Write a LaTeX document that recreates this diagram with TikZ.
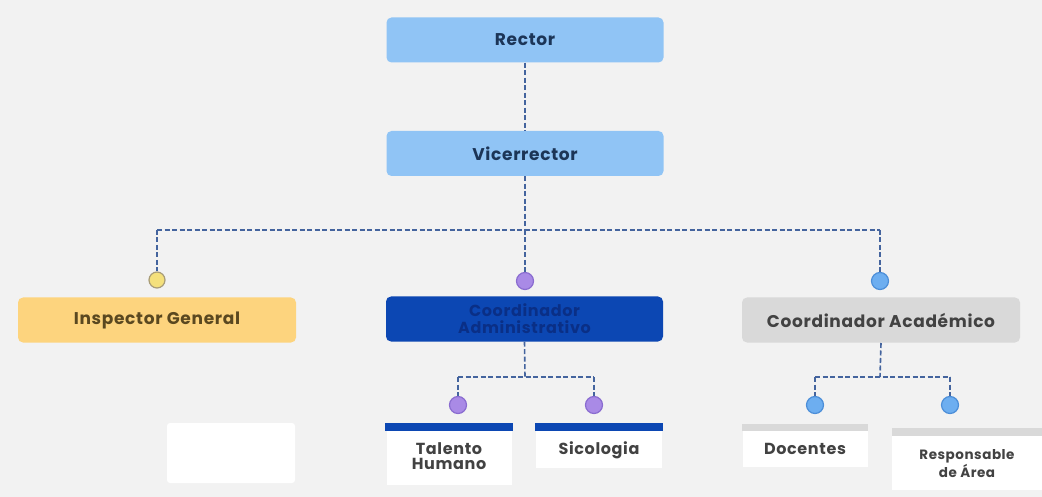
\documentclass[tikz,border=0pt]{standalone}
\usepackage{fontspec}
\setmainfont{Poppins}[LetterSpace=4]
\definecolor{bgcol}{HTML}{F2F2F2}
\definecolor{lightblue}{HTML}{90C4F5}
\definecolor{navy}{HTML}{1C3557}
\definecolor{gold}{HTML}{FDD47E}
\definecolor{goldtext}{HTML}{5A4820}
\definecolor{royal}{HTML}{0C47B3}
\definecolor{royaltext}{HTML}{0A2F86}
\definecolor{greybox}{HTML}{D9D9D9}
\definecolor{greytext}{HTML}{424242}
\definecolor{linecol}{HTML}{44649E}
\definecolor{dotyellow}{HTML}{F4E07C}
\definecolor{dotyellowrim}{HTML}{A89C78}
\definecolor{dotpurple}{HTML}{A98AE6}
\definecolor{dotpurplerim}{HTML}{8A6CD0}
\definecolor{dotblue}{HTML}{6DAEF0}
\definecolor{dotbluerim}{HTML}{4C8ED8}
\begin{document}
\begin{tikzpicture}[x=1pt,y=-1pt,
  box/.style={rectangle, rounded corners=5pt, minimum width=277pt, minimum height=45pt,
    inner sep=0pt, font=\fontsize{17}{17}\selectfont\bfseries, align=center},
  toprole/.style={box, fill=lightblue, text=navy},
  link/.style={draw=linecol, line width=1.6pt, dash pattern=on 5pt off 2.5pt},
  dot/.style={circle, minimum size=#1, inner sep=0pt, line width=1.2pt},
  card/.style={rectangle, fill=white, inner sep=0pt, align=center, text=greytext,
    font=\fontsize{16}{17}\selectfont\bfseries},
  bar/.style={rectangle, inner sep=0pt, minimum height=8pt}
]
\fill[bgcol] (0,0) rectangle (1042,497);
\useasboundingbox (0,0) rectangle (1042,497);

% top of the chart
\node[toprole] (rector) at (525,40) {Rector};
\node[toprole] (vice) at (525,153.5) {Vicerrector};

% second level
\node[box, fill=gold, text=goldtext, minimum width=278pt] (insp) at (157,320) {Inspector General};
\node[box, fill=royal, text=royaltext, font=\fontsize{16}{17}\selectfont\bfseries] (cadm) at (524.5,319) {Coordinador\\Administrativo};
\node[box, fill=greybox, text=greytext, minimum width=278pt] (caca) at (881,320) {Coordinador Académico};

% junction dots
\node[dot=16pt, fill=dotyellow, draw=dotyellowrim] (d1) at (157,280) {};
\node[dot=17pt, fill=dotpurple, draw=dotpurplerim] (d2) at (525,281) {};
\node[dot=17pt, fill=dotblue, draw=dotbluerim] (d3) at (880,281) {};

\node[dot=17pt, fill=dotpurple, draw=dotpurplerim] (d4) at (458,405) {};
\node[dot=17pt, fill=dotpurple, draw=dotpurplerim] (d5) at (594,405) {};
\node[dot=17pt, fill=dotblue, draw=dotbluerim] (d6) at (815,405) {};
\node[dot=17pt, fill=dotblue, draw=dotbluerim] (d7) at (950,405) {};

% connectors
\coordinate (hub) at (525,230);
\coordinate (hubL) at (157,230);
\coordinate (hubR) at (880,230);
\draw[link] (rector.south) -- (vice.north);
\draw[link] (vice.south) -- (hub);
\draw[link] (hubL) -- (hubR);
\draw[link] (hubL) -- (d1.north);
\draw[link] (hub) -- (d2.north);
\draw[link] (hubR) -- (d3.north);

\coordinate (subA) at (525,377);
\coordinate (subAL) at (458,377);
\coordinate (subAR) at (594,377);
\draw[link] (cadm.south) -- (subA);
\draw[link] (subAL) -- (subAR);
\draw[link] (subAL) -- (d4.north);
\draw[link] (subAR) -- (d5.north);

\coordinate (subB) at (880,377);
\coordinate (subBL) at (815,377);
\coordinate (subBR) at (950,377);
\draw[link] (caca.south |- 0,343) -- (subB);
\draw[link] (subBL) -- (subBR);
\draw[link] (subBL) -- (d6.north);
\draw[link] (subBR) -- (d7.north);

% blank card
\node[card, minimum width=128pt, minimum height=60pt, rounded corners=3pt] (blank) at (231,453) {};

% cards under the administrative coordinator
\node[bar, fill=royal, minimum width=128pt] (barTH) at (449,427) {};
\node[card, minimum width=125pt, minimum height=54pt, anchor=north] (th) at (barTH.south) {\raisebox{6pt}{\begin{tabular}{@{}c@{}}Talento\\[-2pt]Humano\end{tabular}}};
\node[bar, fill=royal, minimum width=128pt] (barSI) at (599,427) {};
\node[card, minimum width=126pt, minimum height=37pt, anchor=north] (si) at (barSI.south) {Sicologia};

% cards under the academic coordinator
\node[bar, fill=greybox, minimum width=126pt, minimum height=7pt] (barDO) at (805,427.5) {};
\node[card, minimum width=125pt, minimum height=36pt, anchor=north] (doc) at (barDO.south) {Docentes};
\node[bar, fill=greybox, minimum width=150pt] (barRA) at (967,432) {};
\node[card, minimum width=150pt, minimum height=54pt, anchor=north, font=\fontsize{13.5}{14}\selectfont\bfseries] (resp) at (barRA.south) {Responsable\\de Área};
\end{tikzpicture}
\end{document}
